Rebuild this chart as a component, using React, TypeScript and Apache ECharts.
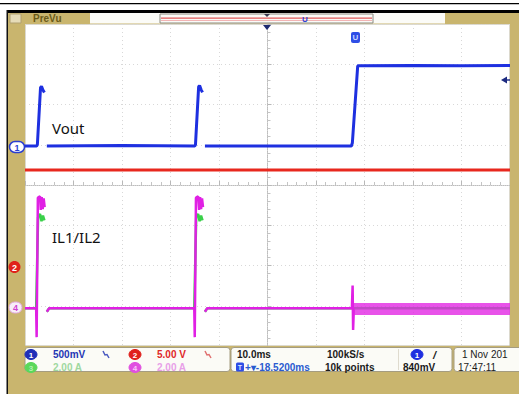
import React, { useEffect, useRef } from "react";
import * as echarts from "echarts";

// Time axis in ms relative to trigger (10 ms/div), vertical in screen divisions
const timeMin = -50;
const timeMax = 50;
const timeStep = 10;
const divMin = -4;
const divMax = 4;

// Ch1 Vout (500 mV/div)
const vout: (number | string)[][] = [
  [-50, 0.97], [-47.6, 0.97], [-47.45, 1.0], [-46.8, 2.42], [-46.6, 2.45], [-46.3, 2.36], [-46.0, 2.3], [-45.95, "-"],
  [-45.5, 0.97], [-30, 0.98], [-15.0, 0.97], [-14.85, 1.0], [-14.2, 2.44], [-14.0, 2.47], [-13.7, 2.37], [-13.4, 2.3], [-13.35, "-"],
  [-12.9, 0.97], [0, 0.97], [17.3, 0.97], [17.5, 1.05], [18.6, 2.96], [30, 2.97], [40, 2.96], [50, 2.97],
];
// Ch2 (5.00 V/div)
const ch2: number[][] = [
  [-50, 0.37], [-25, 0.37], [0, 0.37], [25, 0.37], [50, 0.37],
];
// Ch3 IL1 (2.00 A/div)
const il1: (number | string)[][] = [
  [-50, -3.06], [-47.7, -3.06], [-47.3, -0.8], [-46.9, -0.72], [-46.6, -0.9], [-46.3, -0.76], [-46.0, -0.88], [-45.95, "-"],
  [-45.5, -3.15], [-45.0, -3.06], [-30, -3.06], [-15.1, -3.06], [-14.7, -0.8], [-14.3, -0.72], [-14.0, -0.9], [-13.7, -0.76], [-13.4, -0.88], [-13.35, "-"],
  [-12.9, -3.15], [-12.4, -3.06], [0, -3.06], [50, -3.06],
];
// Ch4 IL2 (2.00 A/div)
const il2: (number | string)[][] = [
  [-50, -3.06], [-47.7, -3.06], [-47.6, -3.78], [-47.35, -0.32], [-46.9, -0.28], [-46.75, -0.62], [-46.55, -0.3], [-46.35, -0.6],
  [-46.15, -0.33], [-45.95, -0.55], [-45.9, "-"],
  [-45.5, -3.15], [-45.0, -3.06], [-30, -3.06], [-15.1, -3.06], [-15.0, -3.78], [-14.75, -0.32], [-14.3, -0.28],
  [-14.1, -0.62], [-13.9, -0.3], [-13.7, -0.6], [-13.5, -0.33], [-13.3, -0.55], [-13.25, "-"],
  [-12.9, -3.15], [-12.4, -3.06], [0, -3.06], [17.4, -3.06], [17.55, -2.5], [17.65, -3.6], [17.8, -3.08],
];
const il2Ripple: number[][] = [
  [17.8, -3.08], [30, -3.08], [50, -3.08],
];

const TAN = "#c9b56e";
const SB = 'bold 10px "Liberation Sans", Arial, sans-serif';

function txt(x: number, y: number, text: string, fill: string, font = SB, align = "left", z = 120) {
  return {
    type: "text", x, y, z,
    style: { text, fill, font, textAlign: align, textVerticalAlign: "middle", align, verticalAlign: "middle" },
  };
}
function badge(cx: number, cy: number, label: string, fill: string, textFill = "#fff", stroke?: string) {
  return {
    type: "group", z: 120,
    children: [
      { type: "ellipse", z: 120, shape: { cx, cy, rx: 6, ry: 5 }, style: { fill, stroke: stroke || fill, lineWidth: 1 } },
      txt(cx, cy + 0.5, label, textFill, 'bold 8px "Liberation Sans", Arial, sans-serif', "center", 121),
    ],
  };
}

export default function App() {
  const ref = useRef<HTMLDivElement>(null);
  useEffect(() => {
    if (!ref.current) return;
    const chart = echarts.init(ref.current, undefined, { renderer: "svg" });
    const line = (name: string, data: any[], color: string, width: number, z: number) => ({
      name, type: "line", data, symbol: "none", showSymbol: false, silent: true, z,
      connectNulls: false,
      lineStyle: { color, width },
    });
    chart.setOption({
      animation: false,
      backgroundColor: "#ffffff",
      grid: {
        left: 25, top: 24, width: 485, height: 322, show: true,
        backgroundColor: "#ffffff", borderColor: "#b9b39a", borderWidth: 1,
      },
      xAxis: {
        type: "value", min: timeMin, max: timeMax, interval: timeStep,
        axisLabel: { show: false },
        axisLine: { show: true, onZero: true, lineStyle: { color: "#bdbdbd", width: 1, type: "dotted" } },
        axisTick: { show: true, inside: true, length: 4, lineStyle: { color: "#b8b8b8" } },
        minorTick: { show: true, splitNumber: 5, length: 3, lineStyle: { color: "#c4c4c4" } },
        splitLine: { show: true, lineStyle: { color: "#d8d8d8", type: [1, 3] } },
      },
      yAxis: {
        type: "value", min: divMin, max: divMax, interval: 1,
        axisLabel: { show: false },
        axisLine: { show: true, onZero: true, lineStyle: { color: "#bdbdbd", width: 1, type: "dotted" } },
        axisTick: { show: true, inside: true, length: 4, lineStyle: { color: "#b8b8b8" } },
        minorTick: { show: true, splitNumber: 5, length: 3, lineStyle: { color: "#c4c4c4" } },
        splitLine: { show: true, lineStyle: { color: "#d8d8d8", type: [1, 3] } },
      },
      series: [
        line("Ch2", ch2, "#e8281e", 3, 2),
        line("IL1", il1, "#3ad04a", 2.5, 3),
        line("IL2", il2, "#e020e4", 2.5, 4),
        line("IL2 ripple", il2Ripple, "rgba(226,40,228,0.8)", 12, 4),
        line("Vout", vout, "#1e30e0", 3, 5),
      ],
      graphic: [
        // outer frame
        { type: "rect", z: 50, shape: { x: 0, y: 3, width: 519, height: 1.2 }, style: { fill: "#000" } },
        { type: "rect", z: 50, shape: { x: 7, y: 10, width: 512, height: 3 }, style: { fill: "#000" } },
        { type: "rect", z: 50, shape: { x: 6.5, y: 10, width: 1.5, height: 384 }, style: { fill: "#111" } },
        { type: "rect", z: 50, shape: { x: 8, y: 13, width: 17, height: 381 }, style: { fill: TAN } },
        { type: "rect", z: 50, shape: { x: 8, y: 13, width: 511, height: 11 }, style: { fill: TAN } },
        { type: "rect", z: 50, shape: { x: 510, y: 13, width: 9, height: 381 }, style: { fill: TAN } },
        { type: "rect", z: 50, shape: { x: 8, y: 346, width: 511, height: 48 }, style: { fill: TAN } },
        // top strip
        { type: "rect", z: 51, shape: { x: 10, y: 14, width: 11, height: 9 }, style: { fill: "#e6dcb8", stroke: "#b0a070" } },
        txt(33, 18.5, "PreVu", "#6a5a18", 'bold 10px "Liberation Sans", Arial, sans-serif', "left", 52),
        { type: "rect", z: 51, shape: { x: 90, y: 13, width: 355, height: 10.5 }, style: { fill: "#fbfbf7" } },
        { type: "rect", z: 52, shape: { x: 160, y: 14, width: 213, height: 9 }, style: { fill: "none", stroke: "#8a8a80", lineWidth: 1 } },
        { type: "rect", z: 52, shape: { x: 161, y: 17.5, width: 211, height: 1.3 }, style: { fill: "#e05a5a" } },
        { type: "rect", z: 52, shape: { x: 161, y: 20, width: 211, height: 1 }, style: { fill: "#f2b4b4" } },
        { type: "polygon", z: 53, shape: { points: [[264, 14], [270, 14], [267, 17]] }, style: { fill: "#3a3a50" } },
        txt(305, 19, "U", "#2a44d8", 'bold 8px "Liberation Sans", Arial, sans-serif', "center", 53),
        // trigger position marker and markers on the plot
        { type: "polygon", z: 130, shape: { points: [[263, 25], [271, 25], [267, 30]] }, style: { fill: "#1c2a70" } },
        { type: "rect", z: 130, shape: { x: 351, y: 32, width: 9, height: 11, r: 2 }, style: { fill: "#2f4ee6" } },
        txt(355.5, 37.5, "U", "#c8d4ff", 'bold 8px "Liberation Sans", Arial, sans-serif', "center", 131),
        { type: "polygon", z: 130, shape: { points: [[501, 80], [507, 76.5], [507, 83.5]] }, style: { fill: "#1c2a80" } },
        { type: "rect", z: 130, shape: { x: 506, y: 79.3, width: 4, height: 1.4 }, style: { fill: "#1c2a80" } },
        // channel markers on the left
        { type: "rect", z: 130, shape: { x: 9.5, y: 141.5, width: 15, height: 11, r: 5.5 }, style: { fill: "#ffffff", stroke: "#2a3ed0", lineWidth: 1.5 } },
        txt(17, 147.5, "1", "#2a3ed0", 'bold 9px "Liberation Sans", Arial, sans-serif', "center", 131),
        { type: "ellipse", z: 130, shape: { cx: 14.5, cy: 267, rx: 6, ry: 6 }, style: { fill: "#e0221a" } },
        txt(14.5, 267.5, "2", "#ffffff", 'bold 9px "Liberation Sans", Arial, sans-serif', "center", 131),
        { type: "rect", z: 130, shape: { x: 9, y: 302, width: 13, height: 11, r: 5.5 }, style: { fill: "#f8eef8", stroke: "#e0a8e0", lineWidth: 1 } },
        txt(15.5, 307.5, "4", "#d040d0", 'bold 9px "Liberation Sans", Arial, sans-serif', "center", 131),
        // annotations
        txt(52, 128, "Vout", "#111111", '15px "Noto Sans", "Open Sans", sans-serif', "left", 130),
        txt(52, 237, "IL1/IL2", "#111111", '15px "Noto Sans", "Open Sans", sans-serif', "left", 130),
        // status bar boxes
        { type: "rect", z: 60, shape: { x: 25, y: 347.5, width: 205, height: 24, r: 3 }, style: { fill: "#fbfbf6", stroke: "#a49c80", lineWidth: 1 } },
        { type: "rect", z: 60, shape: { x: 231, y: 347.5, width: 221, height: 24, r: 3 }, style: { fill: "#fbfbf6", stroke: "#a49c80", lineWidth: 1 } },
        { type: "rect", z: 60, shape: { x: 454, y: 347.5, width: 70, height: 24, r: 3 }, style: { fill: "#fbfbf6", stroke: "#a49c80", lineWidth: 1 } },
        { type: "rect", z: 60, shape: { x: 398, y: 349, width: 0.8, height: 21 }, style: { fill: "#d8d4c4" } },
        badge(31, 354.5, "1", "#1f2fb8"),
        txt(53, 354.5, "500mV", "#2436b4"),
        { type: "polyline", z: 120, shape: { points: [[103, 351], [105, 355], [107, 354.5], [109, 358]] }, style: { stroke: "#4a5ac0", lineWidth: 1.5, fill: "none" } },
        badge(135, 354.5, "2", "#e0201c"),
        txt(157, 354.5, "5.00 V", "#e02828"),
        { type: "polyline", z: 120, shape: { points: [[205, 351], [207, 355], [209, 354.5], [211, 358]] }, style: { stroke: "#e07070", lineWidth: 1.5, fill: "none" } },
        badge(31, 367.5, "3", "#5ad85a", "#b0f0b0"),
        txt(53, 367.5, "2.00 A", "#9fd89f"),
        badge(135, 367.5, "4", "#e050e0", "#f8c8f8"),
        txt(157, 367.5, "2.00 A", "#e8a0e8"),
        txt(237, 354.5, "10.0ms", "#1a1a1a"),
        txt(327, 354.5, "100kS/s", "#1a1a1a"),
        { type: "rect", z: 120, shape: { x: 236, y: 362.5, width: 8, height: 9, r: 1.5 }, style: { fill: "#2f4ee6" } },
        txt(240, 367.5, "T", "#dfe6ff", 'bold 7px "Liberation Sans", Arial, sans-serif', "center", 121),
        txt(245, 367.5, "+▾-18.5200ms", "#2a5ad0"),
        txt(325, 367.5, "10k points", "#1a1a1a"),
        badge(417, 354.5, "1", "#1f2fe0"),
        txt(433, 354.5, "/", "#1a1a1a", 'bold italic 11px "Liberation Sans", Arial, sans-serif'),
        txt(403, 367.5, "840mV", "#1a1a1a"),
        txt(462, 354.5, "1 Nov 201", "#1a1a1a", '10px "Liberation Sans", Arial, sans-serif'),
        txt(458, 367.5, "17:47:11", "#1a1a1a", '10px "Liberation Sans", Arial, sans-serif'),
      ],
    });
    return () => chart.dispose();
  }, []);
  return (
    <div
      ref={ref}
      style={{ position: "fixed", left: 0, top: 0, width: 519, height: 394, background: "#ffffff" }}
    />
  );
}
